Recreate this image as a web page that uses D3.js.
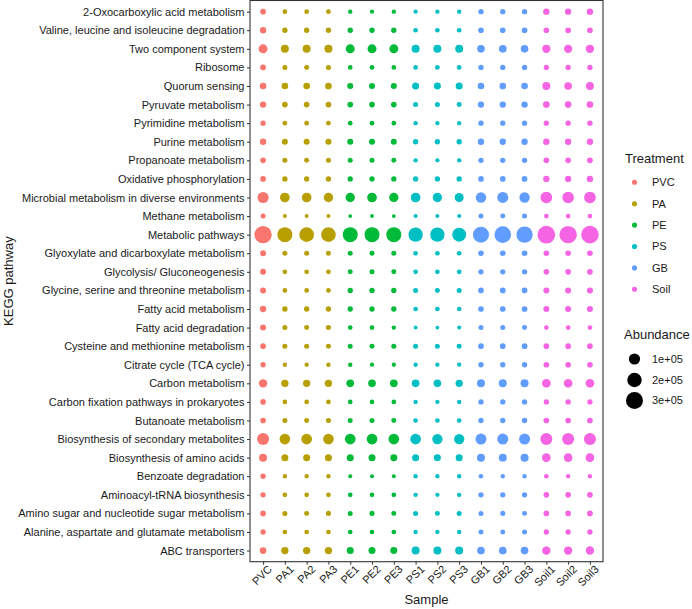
<!DOCTYPE html>
<html>
<head>
<meta charset="utf-8">
<script src="https://cdn.jsdelivr.net/npm/d3@7/dist/d3.min.js"></script>
<style>
  html, body { margin: 0; padding: 0; background: #ffffff; }
  svg { display: block; font-family: "Liberation Sans", Arial, Helvetica, sans-serif; }
</style>
</head>
<body>
<svg id="chart" width="692" height="609"></svg>
<script>
// ---- Data ----
const pathways = [
  "2-Oxocarboxylic acid metabolism",
  "Valine, leucine and isoleucine degradation",
  "Two component system",
  "Ribosome",
  "Quorum sensing",
  "Pyruvate metabolism",
  "Pyrimidine metabolism",
  "Purine metabolism",
  "Propanoate metabolism",
  "Oxidative phosphorylation",
  "Microbial metabolism in diverse environments",
  "Methane metabolism",
  "Metabolic pathways",
  "Glyoxylate and dicarboxylate metabolism",
  "Glycolysis/ Gluconeogenesis",
  "Glycine, serine and threonine metabolism",
  "Fatty acid metabolism",
  "Fatty acid degradation",
  "Cysteine and methionine metabolism",
  "Citrate cycle (TCA cycle)",
  "Carbon metabolism",
  "Carbon fixation pathways in prokaryotes",
  "Butanoate metabolism",
  "Biosynthesis of secondary metabolites",
  "Biosynthesis of amino acids",
  "Benzoate degradation",
  "Aminoacyl-tRNA biosynthesis",
  "Amino sugar and nucleotide sugar metabolism",
  "Alanine, aspartate and glutamate metabolism",
  "ABC transporters"
];

const samples = ["PVC","PA1","PA2","PA3","PE1","PE2","PE3","PS1","PS2","PS3","GB1","GB2","GB3","Soil1","Soil2","Soil3"];
const sampleTreatment = ["PVC","PA","PA","PA","PE","PE","PE","PS","PS","PS","GB","GB","GB","Soil","Soil","Soil"];
const treatments = ["PVC","PA","PE","PS","GB","Soil"];
const treatmentColors = ["#F8766D","#B79F00","#00BA38","#00BFC4","#619CFF","#F564E3"];
const sizeBreaks = [100000, 200000, 300000];
const sizeBreakLabels = ["1e+05","2e+05","3e+05"];

// abundance[pathway][sample], rows in the order of `pathways`, columns in the order of `samples`
const abundance = [
  [13100, 8250,8300,8200, 7400,7350,7400, 7300,7400,7500, 11100,11000,11200, 18200,18000,18300],
  [18200, 11100,11000,11300, 11200,11000,11100, 8300,8200,8300, 13100,13000,13200, 13100,13300,13000],
  [53300, 37400,37000,37800, 53000,53500,53200, 37400,37000,37200, 32800,33000,32500, 42300,42000,42500],
  [13100, 9500,9400,9600, 8300,8200,8300, 8200,8300,8200, 11100,11000,11200, 11100,11200,11000],
  [21300, 21300,21000,21500, 15500,15300,15600, 24800,24500,25000, 21300,21500,21200, 37400,32800,37000],
  [18200, 13100,13000,13200, 13100,13200,13000, 9500,9600,9400, 18200,18000,18300, 21300,21000,21200],
  [11100, 8250,8200,8300, 8300,8200,8250, 7400,7300,7400, 11100,11200,11000, 11000,11100,11200],
  [18200, 15500,15400,15600, 15500,15600,15300, 11100,11000,11200, 18200,18100,18300, 18200,18400,18000],
  [13100, 9500,9400,9600, 9500,9600,9400, 7400,7350,7400, 11100,11000,11200, 13100,13000,13200],
  [13100, 11100,11000,11200, 11100,11200,11000, 11000,11100,11000, 13100,13000,13200, 18200,18000,18300],
  [98000, 65700,65000,59300, 59300,65700,59000, 65700,59300,53300, 79700,95100,79700, 111900,110000,112500],
  [9500, 6850,6900,6850, 6700,6750,6720, 6850,6900,6850, 9500,9400,9600, 8250,8300,8200],
  [315000, 218400,206100,206000, 218400,218000,219000, 194200,194000,182600, 257600,285000,271300, 332000,320000,328000],
  [15500, 9500,9600,9400, 9500,9400,9600, 8250,8300,8200, 13100,13000,13200, 13100,13200,13000],
  [15500, 8250,8300,8200, 9500,9600,9400, 8250,8200,8300, 11100,11000,11200, 13100,13000,13200],
  [15500, 8300,8250,8200, 11100,11000,11200, 9500,9400,9500, 13100,13200,13000, 15500,15400,15600],
  [18200, 11100,11000,11200, 11000,11100,11200, 8250,8300,8200, 13100,13000,13200, 15500,15600,15400],
  [15500, 9500,9400,9600, 8250,8200,7400, 6750,6720,6850, 9500,9600,9400, 8250,8300,8200],
  [13100, 9500,9600,9400, 9500,9400,9600, 9500,9500,9400, 13100,13000,13200, 13100,13200,13000],
  [11100, 7400,7350,7400, 7400,7300,7350, 7400,7350,7300, 11100,11000,11200, 13100,13000,13100],
  [42300, 28600,28300,28800, 32800,32500,33000, 32800,32500,28600, 37400,37000,37600, 47600,47200,47800],
  [13100, 8250,8300,8200, 8250,8200,8300, 7400,7350,7400, 11100,11000,11200, 11100,11200,11000],
  [13100, 9500,9400,9600, 9500,9600,9400, 8250,8300,8200, 11100,11000,11200, 13100,13000,13200],
  [120900, 87200,87000,87500, 87200,87600,87000, 87200,79700,80000, 95100,95000,95400, 120900,120500,121200],
  [37400, 24800,24600,25000, 24800,25000,24600, 24800,24500,24700, 37400,37000,37600, 47600,47300,47800],
  [11100, 7400,7350,7400, 6850,6900,6850, 7400,7350,7400, 8250,7400,7400, 8250,7400,7400],
  [11100, 8250,8300,8200, 8250,8200,8300, 7400,7350,7400, 11100,11000,11200, 13100,13000,13200],
  [13100, 9500,9400,9600, 9500,9600,9400, 9500,9400,9500, 9500,9600,9400, 13100,13000,13200],
  [11100, 8250,8300,8200, 8250,8200,8300, 7400,7350,7400, 9500,9400,9600, 11100,11000,11200],
  [21300, 28600,28300,28800, 24800,25000,24600, 37400,37000,37600, 32800,33000,32600, 42300,42000,42600]
];

// ---- Layout ----
const svg = d3.select("#chart");
const panel = { left: 250, right: 603, top: 0.5, bottom: 561.7 };
const ink = "#1a1a1a";

const x = d3.scalePoint().domain(samples).range([panel.left, panel.right]).padding(0.6);
const y = d3.scalePoint().domain(pathways).range([panel.top, panel.bottom]).padding(0.6);
const color = d3.scaleOrdinal().domain(treatments).range(treatmentColors);

const flat = [];
pathways.forEach((p, i) => samples.forEach((s, j) => flat.push({ pathway: p, sample: s, treatment: sampleTreatment[j], value: abundance[i][j] })));
const [vmin, vmax] = d3.extent(flat, d => d.value);
const rScale = d3.scaleSqrt().domain([0, vmax - vmin]).range([1.85, 8.85]);
const radius = v => rScale(Math.max(0, v - vmin));

// Panel background
svg.append("rect")
  .attr("x", panel.left).attr("y", panel.top)
  .attr("width", panel.right - panel.left).attr("height", panel.bottom - panel.top)
  .attr("fill", "#ffffff");

// Points
svg.append("g").selectAll("circle")
  .data(flat)
  .join("circle")
  .attr("cx", d => x(d.sample))
  .attr("cy", d => y(d.pathway))
  .attr("r", d => radius(d.value))
  .attr("fill", d => color(d.treatment));

// Panel border
svg.append("rect")
  .attr("x", panel.left).attr("y", panel.top)
  .attr("width", panel.right - panel.left).attr("height", panel.bottom - panel.top)
  .attr("fill", "none").attr("stroke", "#333333").attr("stroke-width", 1.1);

// Y axis
const yAxis = d3.axisLeft(y).tickSize(3).tickPadding(2.5);
const gy = svg.append("g").attr("transform", `translate(${panel.left},0)`).call(yAxis);
gy.select(".domain").remove();
gy.selectAll(".tick line").attr("stroke", "#333333");
gy.selectAll(".tick text").attr("fill", ink).attr("font-size", 11)
  .attr("font-family", '"Liberation Sans", Arial, sans-serif');

// X axis
const xAxis = d3.axisBottom(x).tickSize(3).tickPadding(0);
const gx = svg.append("g").attr("transform", `translate(0,${panel.bottom})`).call(xAxis);
gx.select(".domain").remove();
gx.selectAll(".tick line").attr("stroke", "#333333");
gx.selectAll(".tick text")
  .attr("fill", ink).attr("font-size", 11)
  .attr("font-family", '"Liberation Sans", Arial, sans-serif')
  .attr("text-anchor", "end")
  .attr("y", 0).attr("dy", "0.72em")
  .attr("transform", "translate(3.5,2.5) rotate(-45)");

// Axis titles
svg.append("text")
  .attr("x", (panel.left + panel.right) / 2).attr("y", 604)
  .attr("text-anchor", "middle").attr("font-size", 13).attr("fill", ink)
  .text("Sample");
svg.append("text")
  .attr("transform", `translate(13,${(panel.top + panel.bottom) / 2}) rotate(-90)`)
  .attr("text-anchor", "middle").attr("font-size", 13).attr("fill", ink)
  .text("KEGG pathway");

// Treatment legend
const lg = svg.append("g");
lg.append("text").attr("x", 625).attr("y", 163).attr("font-size", 13).attr("fill", ink).text("Treatment");
treatments.forEach((t, i) => {
  const cy = 182.3 + i * 21.4;
  lg.append("circle").attr("cx", 634.5).attr("cy", cy).attr("r", 2.55).attr("fill", color(t));
  lg.append("text").attr("x", 652).attr("y", cy).attr("dy", "0.36em").attr("font-size", 11).attr("fill", ink).text(t);
});

// Abundance legend
const sg = svg.append("g");
sg.append("text").attr("x", 624).attr("y", 338.5).attr("font-size", 13).attr("fill", ink).text("Abundance");
const sizeY = [359, 380, 400.5];
sizeBreaks.forEach((b, i) => {
  sg.append("circle").attr("cx", 634.5).attr("cy", sizeY[i]).attr("r", radius(b)).attr("fill", "#000000");
  sg.append("text").attr("x", 652).attr("y", sizeY[i]).attr("dy", "0.36em").attr("font-size", 11).attr("fill", ink).text(sizeBreakLabels[i]);
});
</script>
</body>
</html>
